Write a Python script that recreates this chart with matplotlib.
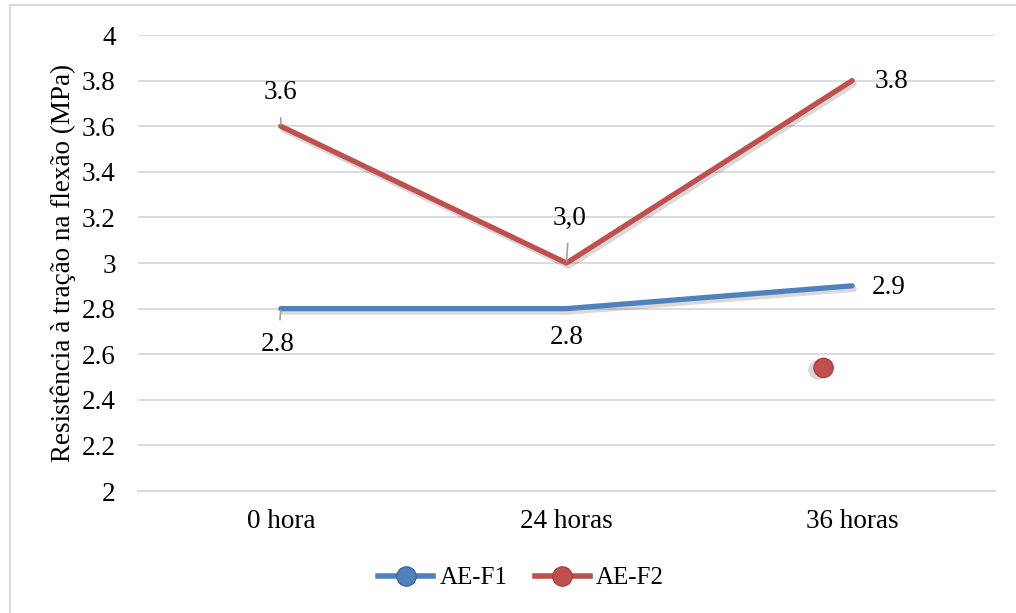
import matplotlib
matplotlib.use("Agg")
import matplotlib.pyplot as plt
import matplotlib.patheffects as pe
from matplotlib.lines import Line2D

plt.rcParams['font.family'] = ['Liberation Serif', 'DejaVu Serif']

categories = ['0 hora', '24 horas', '36 horas']
ae_f1 = [2.8, 2.8, 2.9]
ae_f2 = [3.6, 3.0, 3.8]
f1_labels = ['2.8', '2.8', '2.9']
f2_labels = ['3.6', '3,0', '3.8']
# loose marker left on the chart
loose_x = [1.9]
loose_y = [2.54]

blue = '#4F81BD'
red = '#C0504D'
grid_color = '#D9D9D9'

fig = plt.figure(figsize=(10.16, 6.13), dpi=100)
ax = fig.add_axes([0.1358, 0.199, 0.8435, 0.7439])

x = list(range(len(categories)))
shadow = [pe.SimpleLineShadow(offset=(1.5, -2.5), alpha=0.15, shadow_color='black'), pe.Normal()]
ax.plot(x, ae_f1, color=blue, lw=3.8, solid_capstyle='round', solid_joinstyle='round',
        path_effects=shadow, zorder=3)
ax.plot(x, ae_f2, color=red, lw=3.8, solid_capstyle='round', solid_joinstyle='round',
        path_effects=shadow, zorder=3)
ax.plot(loose_x, loose_y, 'o', ms=14, color=red, mec='#A33A37', mew=0.8, zorder=3,
        path_effects=[pe.SimplePatchShadow(offset=(-4, -1.5), alpha=0.18), pe.Normal()])

# data labels: (offset in points, draw leader line)
f2_pos = [((0, 24), True), ((2, 32), True), ((28, -1), False)]
f1_pos = [((-2, -26), True), ((0, -21), False), ((26, -1), False)]
for series, labels, positions in [(ae_f2, f2_labels, f2_pos), (ae_f1, f1_labels, f1_pos)]:
    for xi, yi, lab, (off, leader) in zip(x, series, labels, positions):
        props = None
        if leader:
            props = dict(arrowstyle='-', color='#A0A0A0', lw=1.2, shrinkA=7, shrinkB=1)
        ax.annotate(lab, xy=(xi, yi), xytext=off, textcoords='offset points',
                    ha='center', va='center', fontsize=19.5, arrowprops=props, zorder=4)

ax.set_xlim(-0.5, 2.5)
ax.set_ylim(2, 4)
ax.set_yticks([2 + 0.2 * i for i in range(11)])
ax.set_yticklabels(['2', '2.2', '2.4', '2.6', '2.8', '3', '3.2', '3.4', '3.6', '3.8', '4'])
ax.set_xticks(x)
ax.set_xticklabels(categories)
ax.tick_params(axis='both', length=0, labelsize=19.5)
ax.tick_params(axis='y', pad=16)
ax.tick_params(axis='x', pad=13)
ax.grid(axis='y', color=grid_color, lw=1.3)
ax.set_axisbelow(True)
for side in ['top', 'right', 'left']:
    ax.spines[side].set_visible(False)
ax.spines['bottom'].set_color(grid_color)
ax.spines['bottom'].set_linewidth(1.5)
ax.set_ylabel('Resistência à tração na flexão (MPa)', fontsize=19.5)
ax.yaxis.set_label_coords(-0.072, 0.5)

handles = [Line2D([], [], color=blue, lw=4, marker='o', ms=14, mfc=blue, mec='#2F5F9A', mew=0.8),
           Line2D([], [], color=red, lw=4, marker='o', ms=14, mfc=red, mec='#A33A37', mew=0.8)]
fig.legend(handles, ['AE-F1', 'AE-F2'], loc='center', bbox_to_anchor=(0.513, 0.057),
           ncol=2, frameon=False, fontsize=18, handlelength=2.2, handletextpad=0.25,
           columnspacing=1.1)

# outer chart border (top and left edges)
fig.add_artist(Line2D([10 / 1016, 10 / 1016], [0, 1 - 5 / 613], transform=fig.transFigure,
                      color='#D9D9D9', lw=1.5))
fig.add_artist(Line2D([10 / 1016, 1], [1 - 5 / 613, 1 - 5 / 613], transform=fig.transFigure,
                      color='#D9D9D9', lw=1.5))

fig.savefig('out.png', dpi=100)
